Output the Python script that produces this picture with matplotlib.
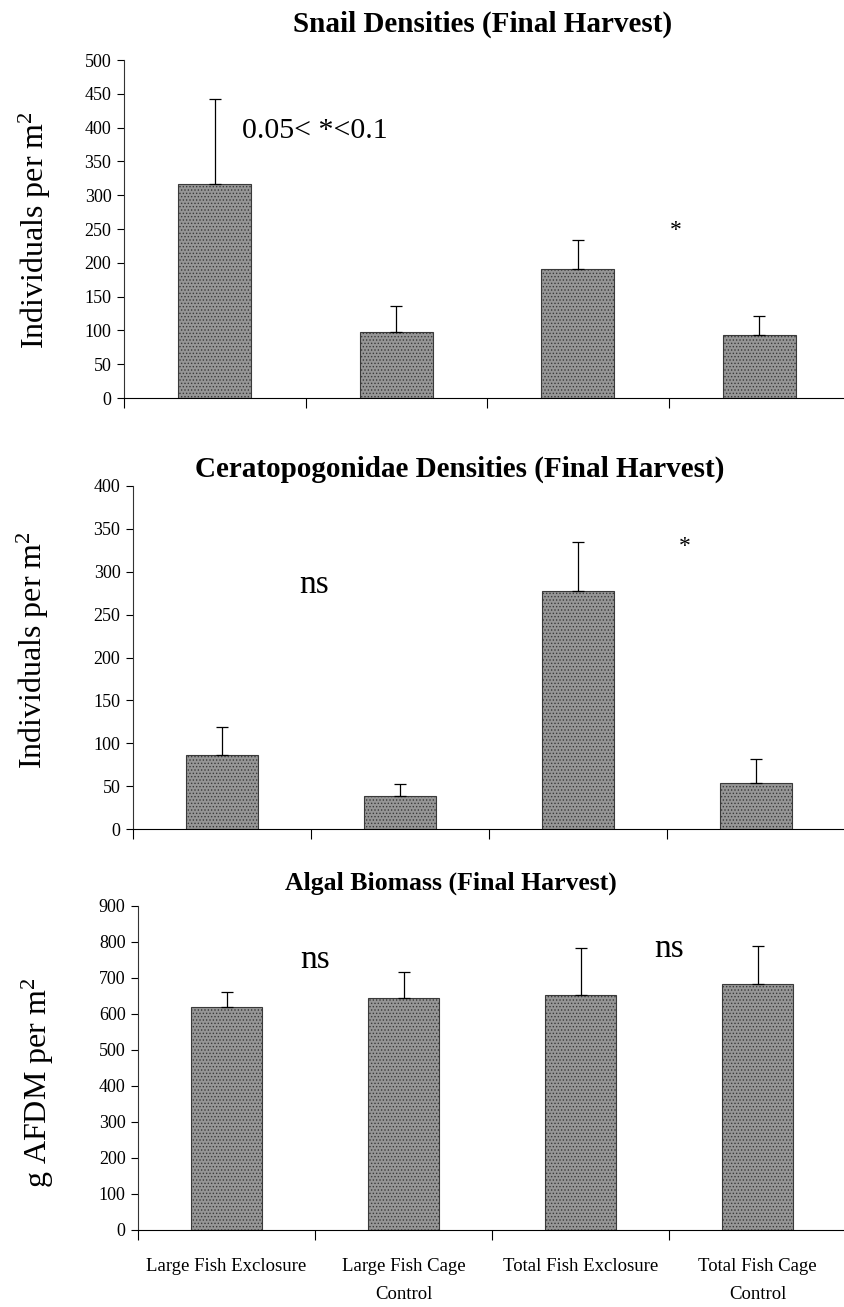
import matplotlib
matplotlib.use("Agg")
import matplotlib.pyplot as plt
import numpy as np

plt.rcParams['font.family'] = ['Liberation Serif', 'DejaVu Serif']
plt.rcParams['mathtext.fontset'] = 'custom'
plt.rcParams['mathtext.rm'] = 'Liberation Serif'
plt.rcParams['mathtext.it'] = 'Liberation Serif:italic'
plt.rcParams['hatch.linewidth'] = 0.6
plt.rcParams['hatch.color'] = '#505050'

treatments = ["Large Fish Exclosure", "Large Fish Cage\nControl",
              "Total Fish Exclosure", "Total Fish Cage\nControl"]

snail_mean = [316, 97, 191, 93]
snail_err = [127, 39, 43, 28]

cerato_mean = [86, 38, 278, 54]
cerato_err = [33, 14, 57, 28]

algae_mean = [619, 645, 654, 683]
algae_err = [43, 72, 129, 105]

W, H = 844, 1307
fig = plt.figure(figsize=(W / 100, H / 100), dpi=100)


def px_axes(left, right, top, bottom):
    return fig.add_axes([left / W, 1 - bottom / H, (right - left) / W, (bottom - top) / H])


def bar_panel(ax, means, errs, ymax, ystep, show_labels=False):
    x = np.arange(len(means))
    ax.bar(x, means, width=0.40, color='#969696', edgecolor='#3a3a3a',
           linewidth=0.8, hatch='.....', zorder=2)
    ax.errorbar(x, means, yerr=[np.zeros(len(errs)), errs], fmt='none',
                ecolor='black', elinewidth=0.9, capsize=4, capthick=0.9, zorder=3)
    ax.set_xlim(-0.5, 3.5)
    ax.set_ylim(0, ymax)
    ax.set_yticks(np.arange(0, ymax + 1, ystep))
    ax.spines['top'].set_visible(False)
    ax.spines['right'].set_visible(False)
    ax.spines['left'].set_color('#333333')
    ax.spines['bottom'].set_color('black')
    ax.tick_params(axis='y', direction='out', length=5, width=0.8,
                   labelsize=13, pad=4)
    # boundary ticks between categories
    ax.set_xticks([-0.5, 0.5, 1.5, 2.5], minor=True)
    ax.tick_params(axis='x', which='minor', direction='out', length=7, width=0.8)
    ax.set_xticks(x)
    if show_labels:
        ax.set_xticklabels(treatments, fontsize=13.5, linespacing=1.9)
        ax.tick_params(axis='x', which='major', length=0, pad=20)
    else:
        ax.set_xticklabels([])
        ax.tick_params(axis='x', which='major', length=0)


# Panel 1: snails
ax1 = px_axes(124, 850, 60, 398)
bar_panel(ax1, snail_mean, snail_err, 500, 50)
ax1.text(0.55, 395, "0.05< *<0.1", fontsize=21.5, ha='center', va='center')
ax1.text(2.54, 248, "*", fontsize=17, ha='center', va='center')
fig.text(483 / W, 1 - 24 / H, "Snail Densities (Final Harvest)", fontsize=21,
         fontweight='bold', ha='center', va='center')
fig.text(35 / W, 1 - 230 / H, "Individuals per m$^2$", fontsize=23,
         rotation=90, ha='center', va='center')

# Panel 2: Ceratopogonidae
ax2 = px_axes(133, 845, 486, 829)
bar_panel(ax2, cerato_mean, cerato_err, 400, 50)
ax2.text(0.52, 285, "ns", fontsize=24, ha='center', va='center')
ax2.text(2.60, 330, "*", fontsize=17, ha='center', va='center')
fig.text(460 / W, 1 - 469 / H, "Ceratopogonidae Densities (Final Harvest)",
         fontsize=21, fontweight='bold', ha='center', va='center')
fig.text(33 / W, 1 - 650 / H, "Individuals per m$^2$", fontsize=23,
         rotation=90, ha='center', va='center')

# Panel 3: algae
ax3 = px_axes(138, 846, 906, 1230)
bar_panel(ax3, algae_mean, algae_err, 900, 100, show_labels=True)
ax3.text(0.50, 750, "ns", fontsize=24, ha='center', va='center')
ax3.text(2.50, 782, "ns", fontsize=24, ha='center', va='center')
fig.text(451 / W, 1 - 883 / H, "Algal Biomass (Final Harvest)", fontsize=18.5,
         fontweight='bold', ha='center', va='center')
fig.text(38 / W, 1 - 1083 / H, "g AFDM per m$^2$", fontsize=23,
         rotation=90, ha='center', va='center')

fig.savefig("out.png", dpi=100, facecolor='white')
